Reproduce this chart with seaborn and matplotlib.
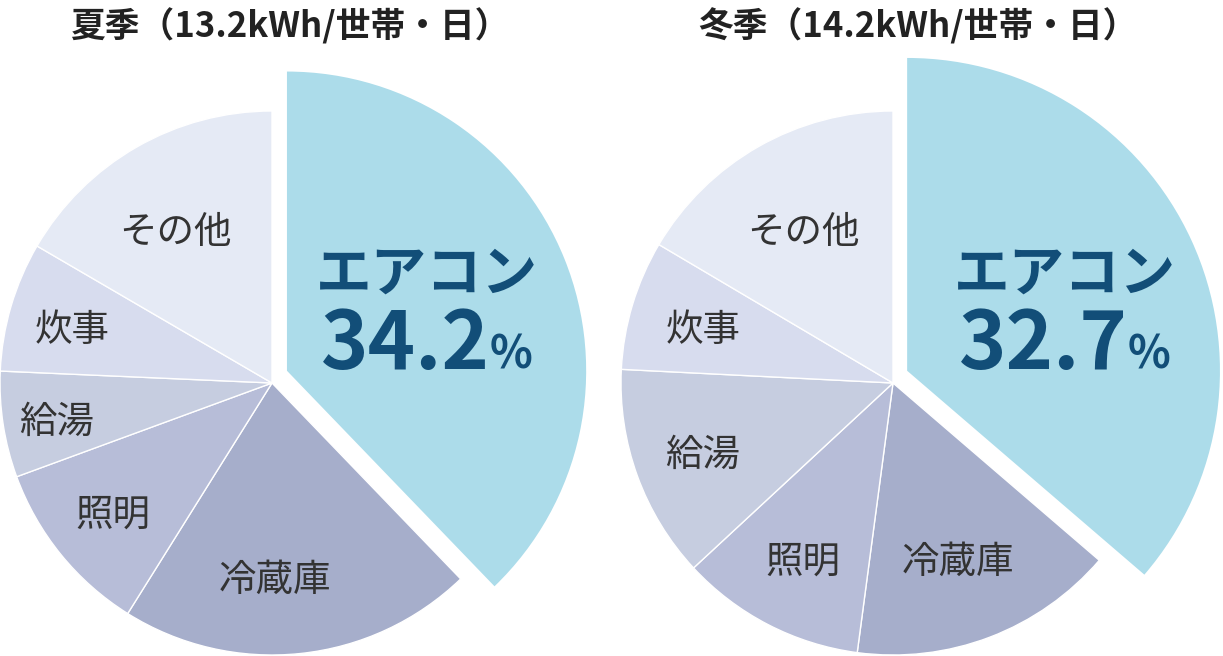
import numpy as np
import matplotlib
matplotlib.use("Agg")
import matplotlib.pyplot as plt
import seaborn as sns

sns.set_style("white")
plt.rcParams['font.family'] = ['Noto Sans CJK JP', 'DejaVu Sans']

categories = ["エアコン", "冷蔵庫", "照明", "給湯", "炊事", "その他"]
# slice sizes as drawn in the picture
summer = [37.8, 21.1, 10.5, 6.3, 7.7, 16.6]
winter = [36.3, 15.8, 11.0, 12.7, 7.7, 16.5]
# shares printed on the chart
aircon_share = ["34.2", "32.7"]
titles = ["夏季（13.2kWh/世帯・日）", "冬季（14.2kWh/世帯・日）"]
colors = ["#acdcea", "#a6aecb", "#b7bdd8", "#c6cde0", "#d7dcee", "#e5eaf5"]

fig = plt.figure(figsize=(12.23, 6.56), dpi=100)
W, H = 1223, 656
R = 272

def px_axes(cx, cy):
    return fig.add_axes([(cx - R) / W, (H - cy - R) / H, 2 * R / W, 2 * R / H])

label_px = [
    {"冷蔵庫": (275, 580), "照明": (113, 515), "給湯": (57, 422), "炊事": (72, 330), "その他": (175, 232)},
    {"冷蔵庫": (958, 562), "照明": (803, 562), "給湯": (703, 455), "炊事": (703, 330), "その他": (803, 232)},
]
big_px = [(427, 275, 490, 345), (1065, 275, 1128, 345)]
centres = [(272, 383), (893, 383)]
ac_geom = [((0.055, 0.045), 1.10), ((0.052, 0.045), 1.15)]
title_x = [290, 918]

for i, vals in enumerate([summer, winter]):
    cx, cy = centres[i]
    ax = px_axes(cx, cy)
    wedges, _ = ax.pie(vals, colors=colors, startangle=90, counterclock=False,
                       radius=1, wedgeprops=dict(edgecolor="white", linewidth=1))
    (dx, dy), r = ac_geom[i]
    wedges[0].set_center((dx, dy))
    wedges[0].set_radius(r)
    wedges[0].set_edgecolor("none")
    for w in wedges:
        w.set_clip_on(False)
    ax.set_xlim(-1, 1)
    ax.set_ylim(-1, 1)
    ax.set_aspect("equal")
    ax.axis("off")
    for name, (px, py) in label_px[i].items():
        ax.text((px - cx) / R, (cy - py) / R, name, ha="center", va="center",
                fontsize=27, color="#333333")
    x1, y1, x2, y2 = big_px[i]
    ax.text((x1 - cx) / R, (cy - y1) / R, categories[0], ha="center", va="center",
            fontsize=40, fontweight="bold", color="#124e78")
    ax.text((x2 - cx) / R, (cy - y2) / R, aircon_share[i], ha="right", va="center",
            fontsize=58, fontweight="bold", color="#124e78")
    ax.text((x2 - cx) / R, (cy - y2 - 10) / R, "%", ha="left", va="center",
            fontsize=32, fontweight="bold", color="#124e78")
    fig.text(title_x[i] / W, 1 - 26 / H, titles[i], ha="center", va="center",
             fontsize=25, fontweight="bold", color="#222222")

fig.savefig("out.png", dpi=100)
